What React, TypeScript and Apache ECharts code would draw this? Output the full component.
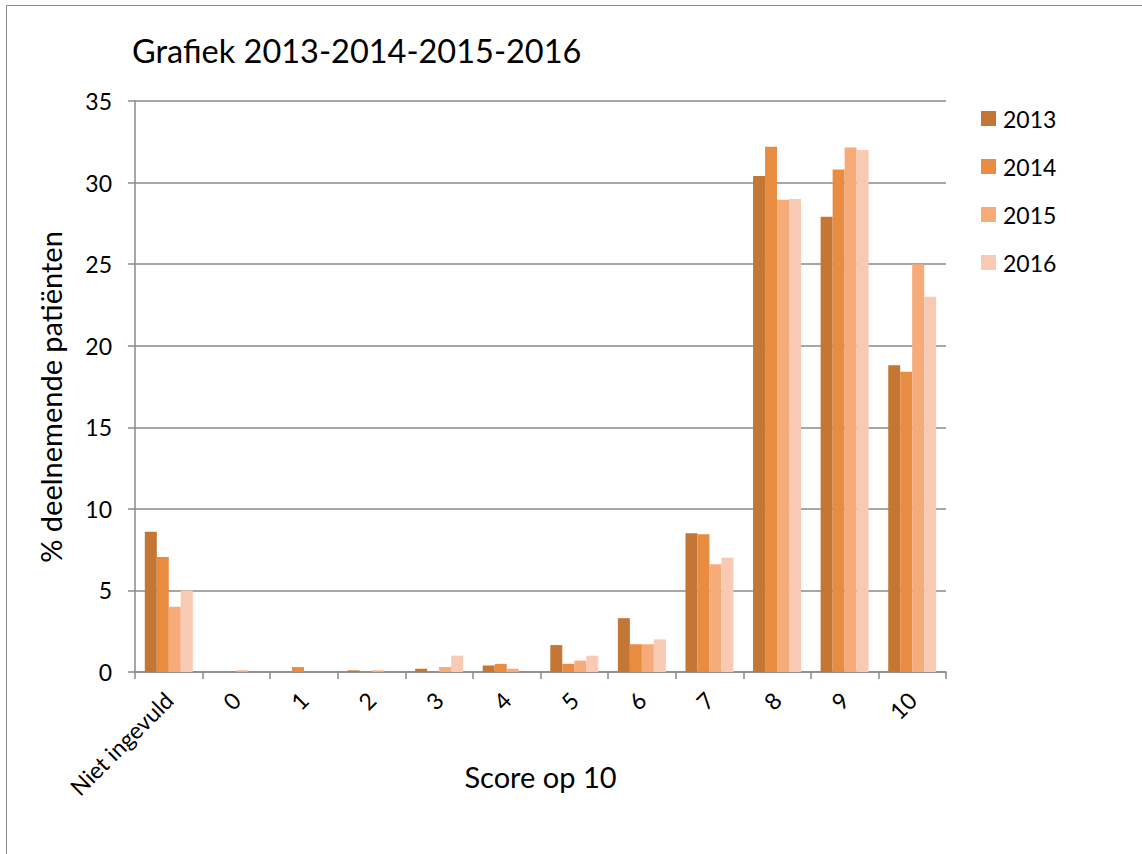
import React, { useEffect, useRef } from "react";
import * as echarts from "echarts";

const categories = ["Niet ingevuld", "0", "1", "2", "3", "4", "5", "6", "7", "8", "9", "10"];
const s2013 = [8.6, 0, 0, 0.1, 0.2, 0.4, 1.65, 3.3, 8.5, 30.4, 27.9, 18.8];
const s2014 = [7.05, 0, 0.3, 0, 0, 0.5, 0.5, 1.7, 8.45, 32.2, 30.8, 18.4];
const s2015 = [4.0, 0.1, 0, 0.1, 0.3, 0.2, 0.7, 1.7, 6.6, 28.95, 32.15, 25.0];
const s2016 = [5.0, 0, 0, 0, 1.0, 0, 1.0, 2.0, 7.0, 29.0, 32.0, 23.0];
const seriesNames = ["2013", "2014", "2015", "2016"];
const seriesColors = ["#C47734", "#E88C42", "#F7AB79", "#F9CAB3"];
const yTicks = { min: 0, max: 35, interval: 5 };
const titleText = "Grafiek 2013-2014-2015-2016";
const xName = "Score op 10";
const yName = "% deelnemende patiënten";

const FONT = "Lato, 'Open Sans', sans-serif";

export default function App() {
  const ref = useRef<HTMLDivElement>(null);
  useEffect(() => {
    if (!ref.current) return;
    const chart = echarts.init(ref.current, undefined, { renderer: "svg" });
    const data = [s2013, s2014, s2015, s2016];
    chart.setOption({
      animation: false,
      backgroundColor: "#ffffff",
      textStyle: { fontFamily: FONT, color: "#000" },
      title: {
        text: titleText,
        left: 127,
        top: 29,
        textStyle: { fontFamily: FONT, fontSize: 32.5, fontWeight: "normal", color: "#000" },
      },
      legend: {
        orient: "vertical",
        left: 976,
        top: 102,
        itemWidth: 15,
        itemHeight: 15,
        itemGap: 25,
        icon: "rect",
        data: seriesNames,
        textStyle: { fontFamily: FONT, fontSize: 23, color: "#000", padding: [0, 0, 0, 2] },
      },
      grid: { left: 135, right: 196, top: 101, bottom: 182, containLabel: false },
      xAxis: {
        type: "category",
        data: categories,
        name: xName,
        nameLocation: "middle",
        nameGap: 90,
        nameMoveOverlap: false,
        nameTextStyle: { fontFamily: FONT, fontSize: 29, color: "#000" },
        axisLine: { lineStyle: { color: "#8a8a8a", width: 1.5 } },
        axisTick: { show: true, length: 7, lineStyle: { color: "#8a8a8a", width: 1.5 } },
        axisLabel: { rotate: 45, fontFamily: FONT, fontSize: 23, color: "#000", margin: 24, interval: 0 },
      },
      yAxis: {
        type: "value",
        min: yTicks.min,
        max: yTicks.max,
        interval: yTicks.interval,
        axisLine: { show: true, lineStyle: { color: "#8a8a8a", width: 1.5 } },
        axisTick: { show: true, length: 7, lineStyle: { color: "#8a8a8a", width: 1.5 } },
        axisLabel: { fontFamily: FONT, fontSize: 23, color: "#000", margin: 23 },
        splitLine: { lineStyle: { color: "#8a8a8a", width: 1.5 } },
      },
      series: seriesNames.map((n, i) => ({
        name: n,
        type: "bar",
        data: data[i],
        barGap: "0%",
        barCategoryGap: "29%",
        itemStyle: { color: seriesColors[i] },
      })),
      graphic: [
        {
          type: "rect",
          shape: { x: 6.5, y: 5.5, width: 1200, height: 900 },
          style: { fill: "none", stroke: "#8a8a8a", lineWidth: 1 },
          silent: true,
        },
        {
          type: "text",
          x: 50,
          y: 397,
          rotation: Math.PI / 2,
          style: {
            text: yName,
            fontFamily: FONT,
            fontSize: 29,
            fill: "#000",
            align: "center",
            verticalAlign: "middle",
          },
          silent: true,
        },
      ],
    });
    return () => chart.dispose();
  }, []);
  return (
    <div
      ref={ref}
      style={{ position: "fixed", left: 0, top: 0, width: 1142, height: 854 }}
    />
  );
}
